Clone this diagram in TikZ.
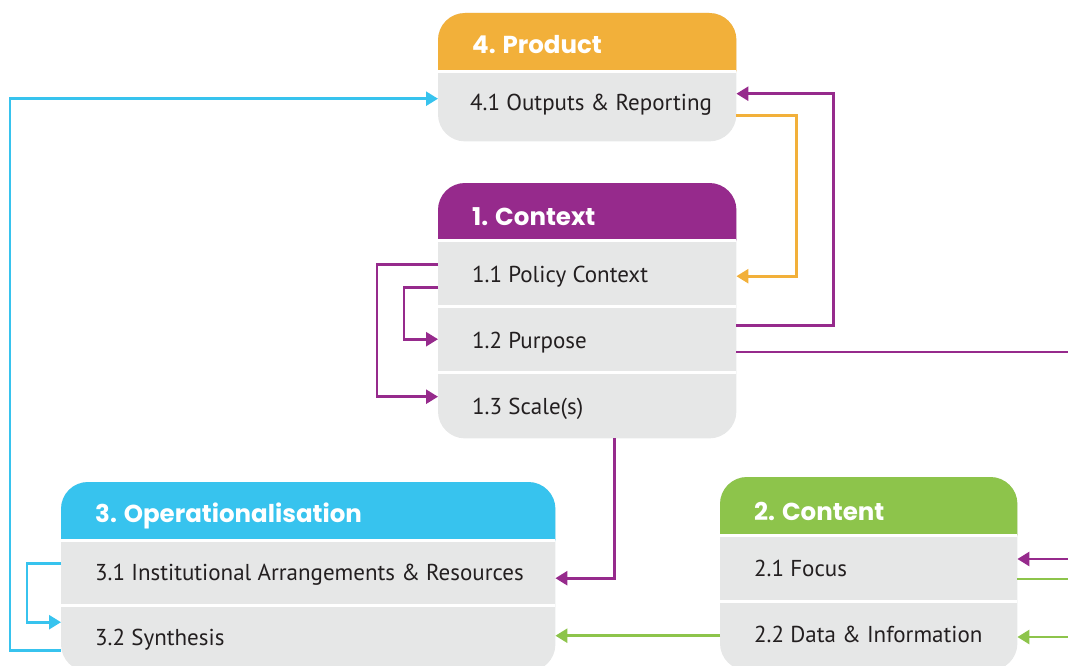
\documentclass[tikz,border=0pt]{standalone}
\usepackage{fontspec}
\setmainfont{PT Sans}
\newfontfamily\headfont{Poppins}
\usetikzlibrary{arrows.meta}
\definecolor{cOrange}{HTML}{F2B03A}
\definecolor{cPurple}{HTML}{962A8C}
\definecolor{cBlue}{HTML}{37C3EE}
\definecolor{cGreen}{HTML}{8DC44B}
\definecolor{cGray}{HTML}{E6E7E7}
\definecolor{cText}{HTML}{231F20}
\tikzset{
  cell/.style={rectangle, inner sep=0pt, anchor=north west},
  rowtext/.style={anchor=base west, inner sep=0pt, text=cText, font=\fontsize{23}{25}\selectfont},
  headtext/.style={anchor=base west, inner sep=0pt, text=white, font=\headfont\bfseries\fontsize{24.5}{27}\selectfont},
  conn/.style={line width=2.6pt, -{Triangle[length=12pt,width=14pt]}},
  plain/.style={line width=2.6pt},
  sep/.style={white, line width=2.5pt},
}
\begin{document}
\begin{tikzpicture}[x=1pt,y=-1pt]
\useasboundingbox (0,0) rectangle (1068,666);
\clip (0,0) rectangle (1068,666);

% ---------- Box 4: Product ----------
\node[cell, minimum width=298pt, minimum height=58pt] (h4) at (438,13) {};
\node[cell, minimum width=298pt, minimum height=70pt] (r41) at (438,71) {};
\fill[cGray, rounded corners=27pt] (h4.north west) rectangle (r41.south east);
\fill[cOrange] (h4.south west) [rounded corners=27pt] -- (h4.north west) -- (h4.north east) [sharp corners] -- (h4.south east) -- cycle;
\draw[sep] (h4.south west) -- (h4.south east);
\node[headtext] (t4) at (472,54) {4. Product};
\node[rowtext] (t41) at (470,111) {4.1 Outputs \& Reporting};

% ---------- Box 1: Context ----------
\node[cell, minimum width=298pt, minimum height=57pt] (h1) at (438,183) {};
\node[cell, minimum width=298pt, minimum height=66pt] (r11) at (438,240) {};
\node[cell, minimum width=298pt, minimum height=66pt] (r12) at (438,306) {};
\node[cell, minimum width=298pt, minimum height=66pt] (r13) at (438,372) {};
\fill[cGray, rounded corners=27pt] (h1.north west) rectangle (r13.south east);
\fill[cPurple] (h1.south west) [rounded corners=27pt] -- (h1.north west) -- (h1.north east) [sharp corners] -- (h1.south east) -- cycle;
\draw[sep] (h1.south west) -- (h1.south east);
\draw[sep] (r11.south west) -- (r11.south east);
\draw[sep] (r12.south west) -- (r12.south east);
\node[headtext] (t1) at (472,225) {1. Context};
\node[rowtext] (t11) at (472,282) {1.1 Policy Context};
\node[rowtext] (t12) at (472,348) {1.2 Purpose};
\node[rowtext] (t13) at (472,414) {1.3 Scale(s)};

% ---------- Box 3: Operationalisation ----------
\node[cell, minimum width=494pt, minimum height=58pt] (h3) at (61,482) {};
\node[cell, minimum width=494pt, minimum height=65pt] (r31) at (61,540) {};
\node[cell, minimum width=494pt, minimum height=66pt] (r32) at (61,605) {};
\fill[cGray, rounded corners=27pt] (h3.north west) rectangle (r32.south east);
\fill[cBlue] (h3.south west) [rounded corners=27pt] -- (h3.north west) -- (h3.north east) [sharp corners] -- (h3.south east) -- cycle;
\draw[sep] (h3.south west) -- (h3.south east);
\draw[sep] (r31.south west) -- (r31.south east);
\node[headtext] (t3) at (95,522) {3. Operationalisation};
\node[rowtext] (t31) at (95,580) {3.1 Institutional Arrangements \& Resources};
\node[rowtext] (t32) at (95,645) {3.2 Synthesis};

% ---------- Box 2: Content ----------
\node[cell, minimum width=297pt, minimum height=58pt] (h2) at (720,477) {};
\node[cell, minimum width=297pt, minimum height=66pt] (r21) at (720,535) {};
\node[cell, minimum width=297pt, minimum height=69pt] (r22) at (720,601) {};
\fill[cGray, rounded corners=27pt] (h2.north west) rectangle (r22.south east);
\fill[cGreen] (h2.south west) [rounded corners=27pt] -- (h2.north west) -- (h2.north east) [sharp corners] -- (h2.south east) -- cycle;
\draw[sep] (h2.south west) -- (h2.south east);
\draw[sep] (r21.south west) -- (r21.south east);
\node[headtext] (t2) at (754,520) {2. Content};
\node[rowtext] (t21) at (754,576) {2.1 Focus};
\node[rowtext] (t22) at (754,642) {2.2 Data \& Information};

% edge coordinates
\coordinate (e12) at (1068,352);
\coordinate (e21in) at (1068,559);
\coordinate (e21out) at (1068,579);
\coordinate (e22in) at (1068,637);

% ---------- Connectors ----------
\draw[conn, cBlue] ([yshift=-12pt]r32.west) -- ++(-51,0) |- ([yshift=7.5pt]r41.west);
\draw[conn, cBlue] ([yshift=9.5pt]r31.west) -- ++(-34,0) |- ([yshift=16pt]r32.west);
\draw[conn, cPurple] ([yshift=9pt]r11.west) -- ++(-61,0) |- ([yshift=8.5pt]r13.west);
\draw[conn, cPurple] ([yshift=-14pt]r11.west) -- ++(-34,0) |- (r12.west);
\draw[conn, cPurple] ([yshift=13.5pt]r12.east) -- ++(97,0) |- ([yshift=12.5pt]r41.east);
\draw[conn, cOrange] ([yshift=-9.5pt]r41.east) -- ++(60,0) |- ([yshift=-3pt]r11.east);
\draw[plain, cPurple] (e12 -| r12.east) -- (e12);
\draw[conn, cPurple] ([xshift=27pt]r13.south) |- ([yshift=-5.5pt]r31.east);
\draw[conn, cGreen] (r22.west) -- (r22.west -| r32.east);
\draw[conn, cPurple] (e21in) -- (e21in -| r21.east);
\draw[plain, cGreen] (e21out -| r21.east) -- (e21out);
\draw[conn, cGreen] (e22in) -- (e22in -| r22.east);
\end{tikzpicture}
\end{document}
